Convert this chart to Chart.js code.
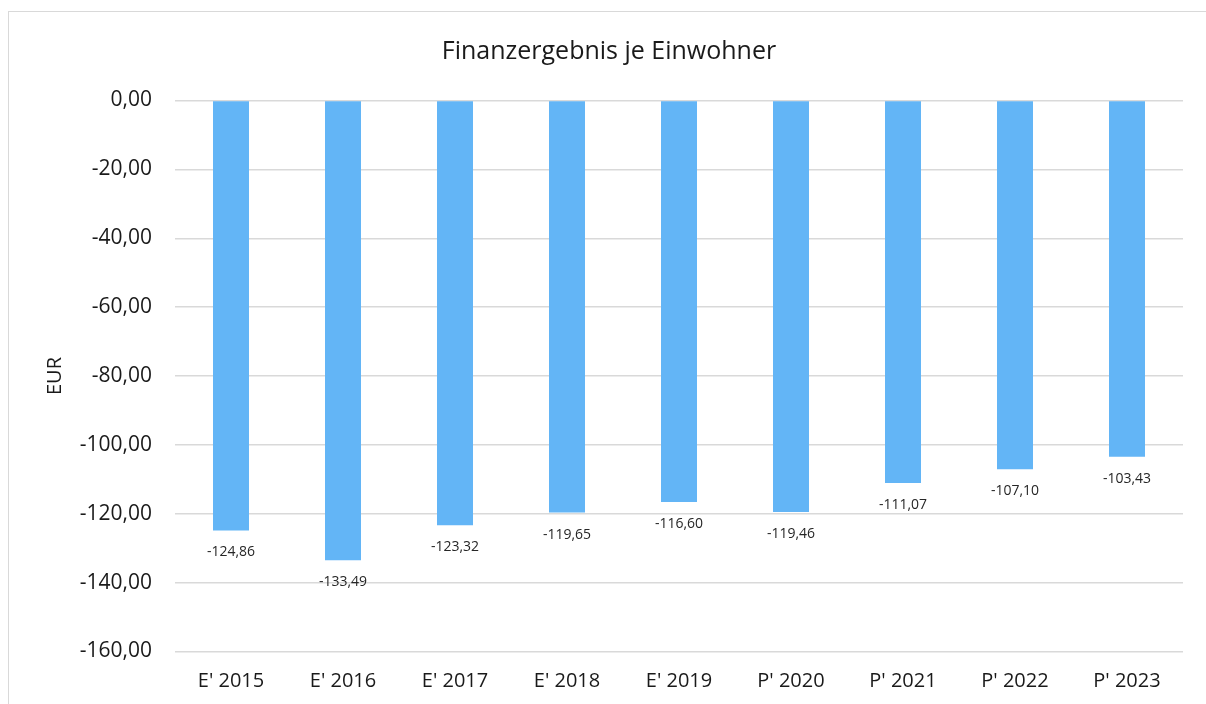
<!DOCTYPE html>
<html>
<head>
<meta charset="utf-8">
<script src="https://cdn.jsdelivr.net/npm/chart.js@4"></script>
<style>
  html, body { margin: 0; padding: 0; background: #fff; }
  #wrap { position: relative; width: 1206px; height: 704px; overflow: hidden; }
  #frame { position: absolute; left: 8px; top: 11px; width: 1300px; height: 800px; border: 1.5px solid #d9d9d9; box-sizing: border-box; }
  canvas { position: absolute; left: 0; top: 0; }
</style>
</head>
<body>
<div id="wrap">
  <div id="frame"></div>
  <canvas id="c" width="1206" height="704"></canvas>
</div>
<script>
// Finanzergebnis je Einwohner (EUR), Ergebnis (E') und Plan (P')
const categories = ["E' 2015", "E' 2016", "E' 2017", "E' 2018", "E' 2019", "P' 2020", "P' 2021", "P' 2022", "P' 2023"];
const values = [-124.86, -133.49, -123.32, -119.65, -116.60, -119.46, -111.07, -107.10, -103.43];
const yTicks = [0, -20, -40, -60, -80, -100, -120, -140, -160];

const fmt = v => v.toFixed(2).replace('.', ',');
const FONT = "'Open Sans', 'Liberation Sans', sans-serif";

// value labels just below the end of each bar
const valueLabels = {
  id: 'valueLabels',
  afterDatasetsDraw(chart) {
    const ctx = chart.ctx;
    const meta = chart.getDatasetMeta(0);
    ctx.save();
    ctx.font = "14px " + FONT;
    ctx.fillStyle = '#262626';
    ctx.textAlign = 'center';
    ctx.textBaseline = 'middle';
    meta.data.forEach((bar, i) => {
      ctx.fillText(fmt(values[i]), bar.x, bar.y + 22);
    });
    ctx.restore();
  }
};

new Chart(document.getElementById('c'), {
  type: 'bar',
  data: {
    labels: categories,
    datasets: [{
      data: values,
      backgroundColor: '#63b5f6',
      borderWidth: 0,
      categoryPercentage: 1,
      barPercentage: 36 / 112
    }]
  },
  options: {
    responsive: false,
    animation: false,
    layout: { padding: { left: 35, right: 23, top: 0, bottom: 0 } },
    plugins: {
      legend: { display: false },
      tooltip: { enabled: false },
      title: {
        display: true,
        text: 'Finanzergebnis je Einwohner',
        color: '#1a1a1a',
        font: { family: FONT, size: 25, weight: 'normal', lineHeight: 1.2 },
        padding: { top: 36.5, bottom: 34 }
      }
    },
    scales: {
      x: {
        grid: { display: false, drawTicks: false },
        border: { display: false },
        ticks: {
          color: '#1a1a1a',
          font: { family: FONT, size: 20 },
          padding: 18,
          maxRotation: 0
        },
        afterFit(scale) { scale.height = 52.5; }
      },
      y: {
        min: -160,
        max: 0,
        afterBuildTicks(scale) { scale.ticks = yTicks.map(v => ({ value: v })); },
        grid: { color: '#d9d9d9', lineWidth: 1.5, drawTicks: false },
        border: { display: false },
        ticks: {
          color: '#1a1a1a',
          font: { family: FONT, size: 21 },
          padding: 23,
          callback: v => fmt(v)
        },
        title: {
          display: true,
          text: 'EUR',
          color: '#1a1a1a',
          font: { family: FONT, size: 20 },
          padding: { top: 8, bottom: 0 }
        },
        afterFit(scale) { scale.width = 140; }
      }
    }
  },
  plugins: [valueLabels]
});
</script>
</body>
</html>
